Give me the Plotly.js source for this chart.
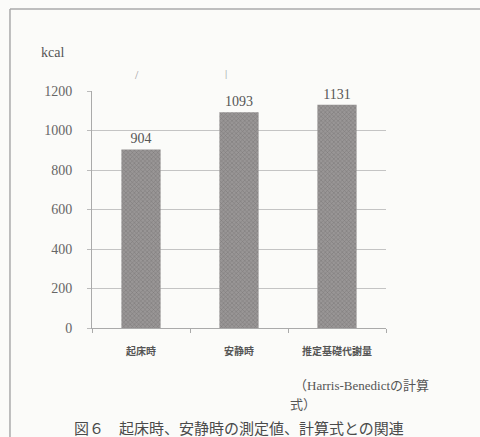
<!DOCTYPE html>
<html><head><meta charset="utf-8">
<script src="https://cdn.plot.ly/plotly-3.0.1.min.js"></script>
<style>html,body{margin:0;padding:0;background:#fbfbf9;}#c{width:480px;height:437px;}</style>
</head><body><div id="c"></div>
<script>
const categories = ['起床時', '安静時', '推定基礎代謝量'];
const values = [904, 1093, 1131];
const valueLabels = ['904', '1093', '1131'];
const yTicks = [0, 200, 400, 600, 800, 1000, 1200];
const unitLabel = 'kcal';
const noteLine1 = '（Harris-Benedictの計算';
const noteLine2 = '式）';
const caption = '図６　起床時、安静時の測定値、計算式との関連';

const serif = '"Liberation Serif", "DejaVu Serif", serif';
const jp = '"Noto Sans CJK JP", sans-serif';

const trace = {
  type: 'bar', x: categories, y: values,
  text: valueLabels, textposition: 'outside', cliponaxis: false,
  textfont: {family: serif, size: 14, color: '#555'},
  marker: {color: '#8e8b8b', line: {width: 0},
    pattern: {shape: 'x', fgcolor: '#7a7777', bgcolor: '#999696', size: 3, solidity: 0.3}},
  width: 0.4, hoverinfo: 'none'
};

const layout = {
  width: 480, height: 437,
  margin: {l: 92, r: 94, t: 91, b: 109},
  paper_bgcolor: '#fbfbf9', plot_bgcolor: '#fbfbf9',
  showlegend: false,
  xaxis: {type: 'category', showline: true, linecolor: '#aaa', linewidth: 1,
    ticks: 'outside', ticklen: 4, tickcolor: '#aaa', tickson: 'boundaries',
    showgrid: false, tickfont: {family: jp, size: 10, color: '#555', weight: 'bold'}, ticklabelstandoff: 14},
  yaxis: {range: [0, 1200], tickvals: yTicks, showline: true, linecolor: '#aaa', linewidth: 1,
    ticks: 'outside', ticklen: 4, tickcolor: '#bbb',
    gridcolor: '#c4c4c4', gridwidth: 1, zeroline: false,
    tickfont: {family: serif, size: 14, color: '#666'}, ticklabelstandoff: 12},
  annotations: [
    {text: unitLabel, xref: 'paper', yref: 'paper', x: -0.133, y: 1.163, xanchor: 'center', yanchor: 'middle',
      showarrow: false, font: {family: serif, size: 14, color: '#555'}},
    {text: '/', xref: 'paper', yref: 'paper', x: 0.139, y: 1.105, showarrow: false, font: {family: serif, size: 12, color: '#999'}},
    {text: '|', xref: 'paper', yref: 'paper', x: 0.455, y: 1.11, showarrow: false, font: {family: serif, size: 11, color: '#999'}},
    {text: noteLine1, xref: 'paper', yref: 'paper', x: 0.68, y: -0.241, xanchor: 'left', yanchor: 'middle',
      showarrow: false, font: {family: serif + ',' + jp, size: 13, color: '#555'}},
    {text: noteLine2, xref: 'paper', yref: 'paper', x: 0.668, y: -0.317, xanchor: 'left', yanchor: 'middle',
      showarrow: false, font: {family: jp, size: 13, color: '#555'}},
    {text: caption, xref: 'paper', yref: 'paper', x: 0.5, y: -0.418, xanchor: 'center', yanchor: 'middle',
      showarrow: false, font: {family: jp, size: 15, color: '#4a4a4a'}}
  ],
  shapes: [
    {type: 'line', xref: 'paper', yref: 'paper', x0: -0.279, x1: 1.33, y0: 1.346, y1: 1.346, line: {color: '#aaa', width: 1.5}},
    {type: 'line', xref: 'paper', yref: 'paper', x0: -0.279, x1: -0.279, y0: 1.346, y1: -0.5, line: {color: '#aaa', width: 1.5}}
  ]
};

Plotly.newPlot('c', [trace], layout, {staticPlot: true});
</script>
</body></html>
